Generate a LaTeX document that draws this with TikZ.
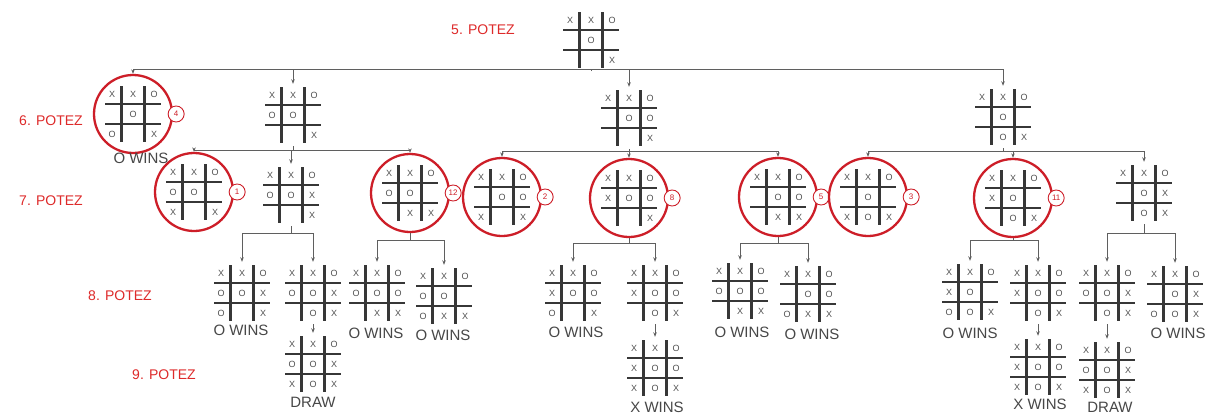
\documentclass[tikz,border=0pt]{standalone}
\usepackage{fontspec}
\setmainfont{Liberation Sans}
\usetikzlibrary{arrows.meta}
\definecolor{lred}{RGB}{222,42,42}
\definecolor{cred}{RGB}{205,30,40}
\definecolor{gline}{RGB}{55,55,55}
\definecolor{edgec}{RGB}{95,95,95}
\definecolor{markc}{RGB}{80,80,80}
\tikzset{
 bnode/.style={rectangle,minimum width=56pt,minimum height=62pt,inner sep=0pt},
 cnode/.style={circle,draw=cred,line width=2.3pt,minimum size=78pt,inner sep=0pt},
 gridl/.style={draw=gline,line width=2.1pt},
 mk/.style={text=markc,font=\fontsize{9}{10}\selectfont,inner sep=0pt},
 edge/.style={draw=edgec,line width=0.9pt,-{Stealth[length=4.5pt,width=3.5pt]}},
 bus/.style={draw=edgec,line width=0.9pt},
 lvl/.style={text=lred,font=\fontsize{14}{16}\selectfont,inner sep=0pt},
 res/.style={text=black!72,font=\fontsize{15}{16}\selectfont,inner sep=0pt},
 badge/.style={circle,draw=cred,line width=0.9pt,fill=white,minimum size=16pt,inner sep=0pt,text=cred,font=\fontsize{8}{9}\selectfont},
}
\newcommand\tttgrid[2]{%
 \begin{scope}[shift={#1}]
  \draw[gridl] (-28,-10) -- (28,-10) (-28,10) -- (28,10) (-11.5,-28) -- (-11.5,28) (11.5,-28) -- (11.5,28);
  \foreach \a [count=\i from 0] in {#2}{
    \pgfmathtruncatemacro\cc{mod(\i,3)}
    \pgfmathtruncatemacro\rr{div(\i,3)}
    \node[mk] at ({(\cc-1)*21},{(\rr-1)*20}) {\a};
  }
 \end{scope}}
\newcommand\brd[3]{\node[bnode] (#1) at #2 {}; \tttgrid{#2}{#3}}
\newcommand\cbrd[4]{\node[cnode] (#1) at #2 {}; \tttgrid{#2}{#3} \node[badge] (#1b) at ([xshift=3pt]#1.east) {#4};}
\begin{document}
\begin{tikzpicture}[x=1pt,y=-1pt]
\fill[white] (0,0) rectangle (1214,415);
\useasboundingbox (0,0) rectangle (1214,415);
% level labels
\node[lvl] (l5) at (483,30) {5. POTEZ};
\node[lvl] (l6) at (51,121) {6. POTEZ};
\node[lvl] (l7) at (51,201) {7. POTEZ};
\node[lvl] (l8) at (120,296) {8. POTEZ};
\node[lvl] (l9) at (164,375) {9. POTEZ};
% boards
\brd{root}{(591,40)}{X,X,O,{},O,{},{},{},X}
\cbrd{A}{(133,114)}{X,X,O,{},O,{},O,{},X}{4}
\brd{B}{(293,115)}{X,X,O,O,O,{},{},{},X}
\brd{C}{(629,118)}{X,X,O,{},O,O,{},{},X}
\brd{D}{(1003,117)}{X,X,O,{},O,{},{},O,X}
\cbrd{L7a}{(194,192)}{X,X,O,O,O,{},X,{},X}{1}
\brd{L7b}{(291,195)}{X,X,O,O,O,X,{},{},X}
\cbrd{L7c}{(410,193)}{X,X,O,O,O,{},{},X,X}{12}
\cbrd{M7a}{(502,197)}{X,X,O,{},O,O,X,{},X}{2}
\cbrd{M7b}{(629,198)}{X,X,O,X,O,O,{},{},X}{8}
\cbrd{M7c}{(778,197)}{X,X,O,{},O,O,{},X,X}{5}
\cbrd{R7a}{(868,197)}{X,X,O,{},O,{},X,O,X}{3}
\cbrd{R7b}{(1013,198)}{X,X,O,X,O,{},{},O,X}{11}
\brd{R7c}{(1144,193)}{X,X,O,{},O,X,{},O,X}
\brd{L8a}{(242,293)}{X,X,O,O,O,X,O,{},X}
\brd{L8b}{(313,293)}{X,X,O,O,O,X,{},O,X}
\brd{L8c}{(377,293)}{X,X,O,O,O,O,{},X,X}
\brd{L8d}{(444,296)}{X,X,O,O,O,{},O,X,X}
\brd{M8a}{(573,293)}{X,X,O,X,O,O,O,{},X}
\brd{M8b}{(655,293)}{X,X,O,X,O,O,{},O,X}
\brd{M8c}{(740,291)}{X,X,O,O,O,O,{},X,X}
\brd{M8d}{(808,294)}{X,X,O,{},O,O,O,X,X}
\brd{R8a}{(970,292)}{X,X,O,X,O,{},O,O,X}
\brd{R8b}{(1038,293)}{X,X,O,X,O,O,{},O,X}
\brd{R8c}{(1107,293)}{X,X,O,O,O,X,{},O,X}
\brd{R8d}{(1175,294)}{X,X,O,{},O,X,O,O,X}
\brd{L9}{(313,364)}{X,X,O,O,O,X,X,O,X}
\brd{M9}{(655,368)}{X,X,O,X,O,O,X,O,X}
\brd{R9a}{(1038,367)}{X,X,O,X,O,O,X,O,X}
\brd{R9b}{(1107,370)}{X,X,O,O,O,X,X,O,X}
% results
\node[res] (rA) at (141,158) {O WINS};
\node[res] (rL8a) at (241,330) {O WINS};
\node[res] (rL8c) at (376,333) {O WINS};
\node[res] (rL8d) at (443,335) {O WINS};
\node[res] (rM8a) at (576,332) {O WINS};
\node[res] (rM8c) at (742,332) {O WINS};
\node[res] (rM8d) at (812,334) {O WINS};
\node[res] (rR8a) at (970,333) {O WINS};
\node[res] (rR8d) at (1178,333) {O WINS};
\node[res] (rL9) at (313,402) {DRAW};
\node[res] (rM9) at (657,407) {X WINS};
\node[res] (rR9a) at (1040,404) {X WINS};
\node[res] (rR9b) at (1110,407) {DRAW};
% bus coordinates
\coordinate (b0) at (591,69);
\coordinate (bB) at (293,150);
\coordinate (bC) at (629,151);
\coordinate (bD) at (1003,151);
\coordinate (bL7b) at (291,233);
\coordinate (bL7c) at (410,240);
\coordinate (bM7b) at (629,243);
\coordinate (bM7c) at (778,243);
\coordinate (bR7b) at (1013,240);
\coordinate (bR7c) at (1144,233);
% connectors
\draw[bus] (root.south) -- (b0);
\foreach \c in {A,B,C,D} \draw[edge] (b0) -| (\c.north);
\draw[bus] (B.south) -- (bB);
\foreach \c in {L7a,L7b,L7c} \draw[edge] (bB) -| (\c.north);
\draw[bus] (C.south) -- (bC);
\foreach \c in {M7a,M7b,M7c} \draw[edge] (bC) -| (\c.north);
\draw[bus] (D.south) -- (bD);
\foreach \c in {R7a,R7b,R7c} \draw[edge] (bD) -| (\c.north);
\draw[bus] (L7b.south) -- (bL7b);
\foreach \c in {L8a,L8b} \draw[edge] (bL7b) -| (\c.north);
\draw[bus] (L7c.south) -- (bL7c);
\foreach \c in {L8c,L8d} \draw[edge] (bL7c) -| (\c.north);
\draw[bus] (M7b.south) -- (bM7b);
\foreach \c in {M8a,M8b} \draw[edge] (bM7b) -| (\c.north);
\draw[bus] (M7c.south) -- (bM7c);
\foreach \c in {M8c,M8d} \draw[edge] (bM7c) -| (\c.north);
\draw[bus] (R7b.south) -- (bR7b);
\foreach \c in {R8a,R8b} \draw[edge] (bR7b) -| (\c.north);
\draw[bus] (R7c.south) -- (bR7c);
\foreach \c in {R8c,R8d} \draw[edge] (bR7c) -| (\c.north);
\draw[edge] (L8b.south) -- (L9.north);
\draw[edge] (M8b.south) -- (M9.north);
\draw[edge] (R8b.south) -- (R9a.north);
\draw[edge] (R8c.south) -- (R9b.north);
\end{tikzpicture}
\end{document}
